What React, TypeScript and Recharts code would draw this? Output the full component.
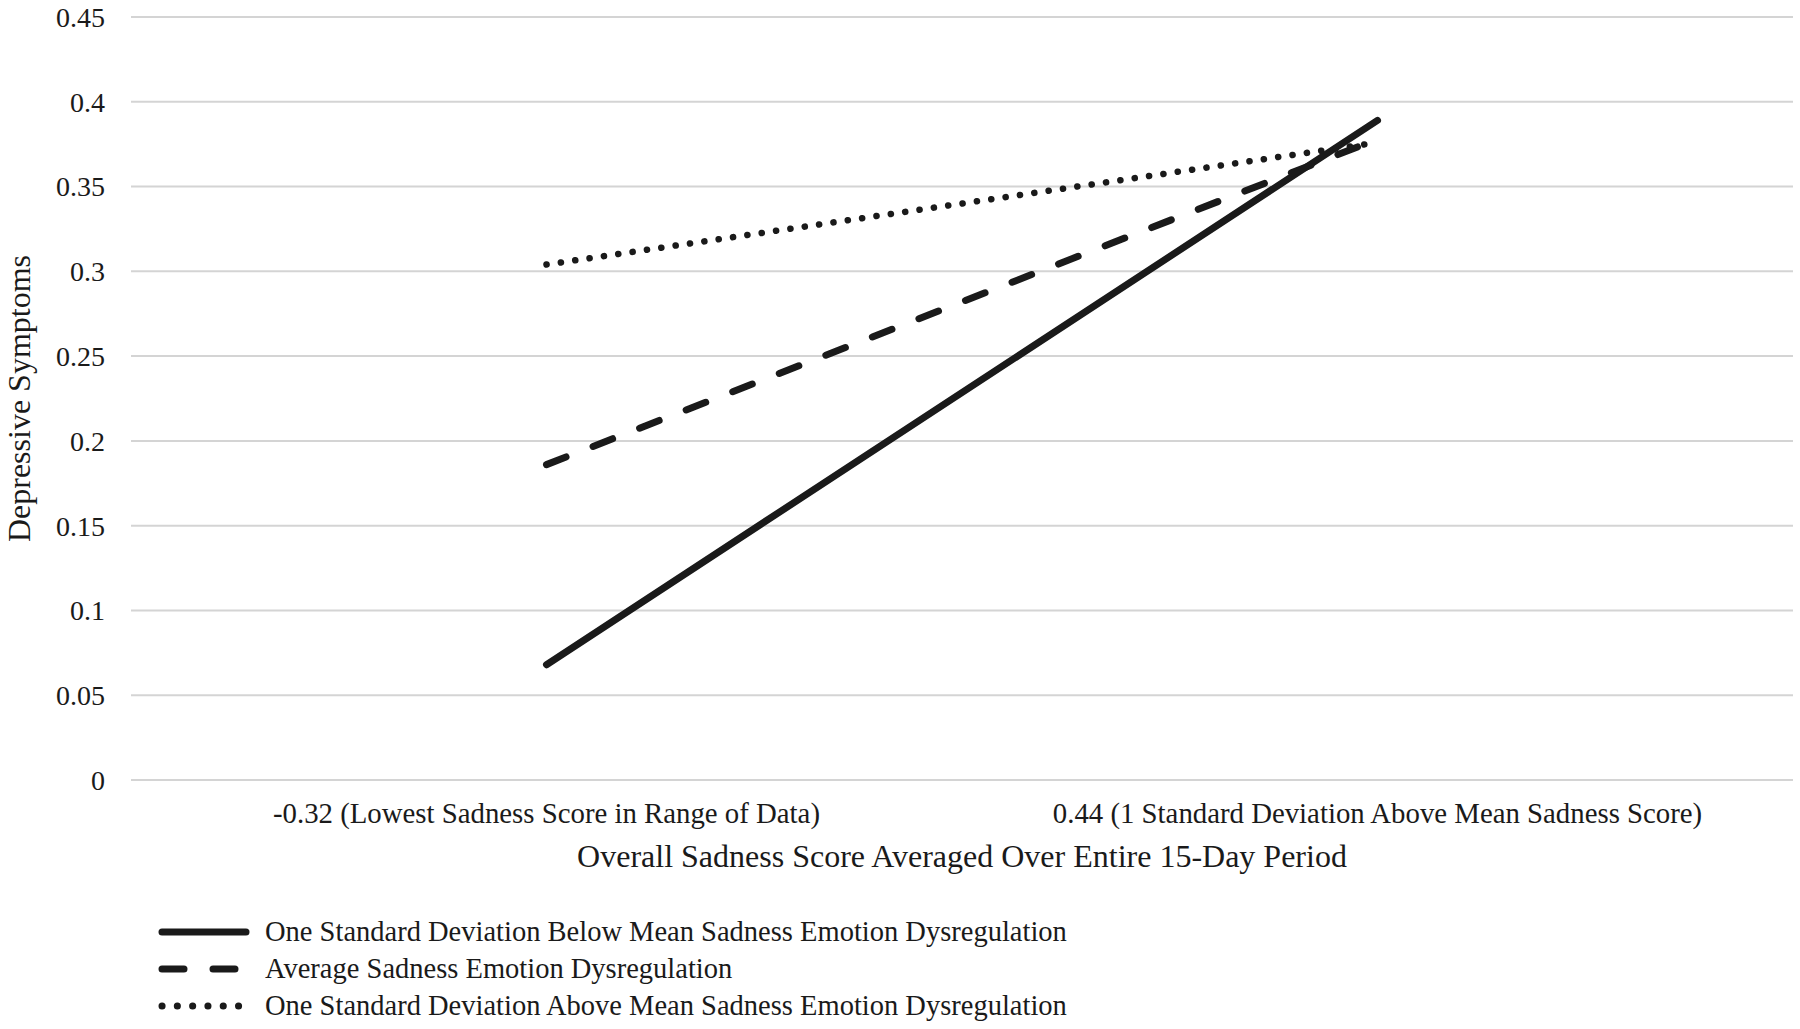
import { LineChart, Line, XAxis, YAxis, CartesianGrid, Legend } from 'recharts';

const categories = [
  '-0.32 (Lowest Sadness Score in Range of Data)',
  '0.44 (1 Standard Deviation Above Mean Sadness Score)',
];
const belowMean = [0.068, 0.389];
const average = [0.186, 0.378];
const aboveMean = [0.304, 0.376];
const yTicks = [0, 0.05, 0.1, 0.15, 0.2, 0.25, 0.3, 0.35, 0.4, 0.45];

const seriesInfo = [
  { key: 'below', name: 'One Standard Deviation Below Mean Sadness Emotion Dysregulation', dash: undefined as string | undefined },
  { key: 'avg', name: 'Average Sadness Emotion Dysregulation', dash: '21 29' },
  { key: 'above', name: 'One Standard Deviation Above Mean Sadness Emotion Dysregulation', dash: '0.1 14.4' },
];

const data = categories.map((c, i) => ({
  cat: c,
  below: belowMean[i],
  avg: average[i],
  above: aboveMean[i],
}));

const FONT = '"Liberation Serif", "Times New Roman", serif';
const INK = '#1a1a1a';

const legendDash: Record<string, string | undefined> = {
  below: undefined,
  avg: '22 29',
  above: '0.1 15.2',
};

function LegendBox() {
  return (
    <div style={{ height: 154, display: 'flex', flexDirection: 'column', justifyContent: 'flex-end', paddingLeft: 158 }}>
      {seriesInfo.map((s) => (
        <div key={s.key} style={{ display: 'flex', alignItems: 'center', height: 37 }}>
          <svg width={100} height={14} style={{ marginRight: 7 }}>
            <line
              x1={4}
              y1={7}
              x2={s.key === 'avg' ? 82 : 88}
              y2={7}
              stroke={INK}
              strokeWidth={7}
              strokeLinecap="round"
              strokeDasharray={legendDash[s.key]}
            />
          </svg>
          <span style={{ fontFamily: FONT, fontSize: 28.5, color: INK, lineHeight: '37px', whiteSpace: 'nowrap' }}>{s.name}</span>
        </div>
      ))}
    </div>
  );
}

export default function App() {
  return (
    <div style={{ position: 'absolute', left: 0, top: 0, width: 1800, height: 1029, background: '#fff' }}>
      <LineChart width={1800} height={1029} data={data} margin={{ top: 17, right: 7, left: 0, bottom: 5 }}>
        <CartesianGrid vertical={false} stroke="#d4d4d4" strokeWidth={2} />
        <XAxis
          dataKey="cat"
          scale="band"
          axisLine={false}
          tickLine={false}
          tickMargin={17}
          height={90}
          interval={0}
          tick={{ fontFamily: FONT, fontSize: 28.8, fill: INK }}
          label={{
            value: 'Overall Sadness Score Averaged Over Entire 15-Day Period',
            position: 'insideBottom',
            offset: 3,
            style: { fontFamily: FONT, fontSize: 32, fill: INK },
          }}
        />
        <YAxis
          domain={[0, 0.45]}
          ticks={yTicks}
          width={131}
          axisLine={false}
          tickLine={false}
          tickMargin={20}
          tick={{ fontFamily: FONT, fontSize: 28, fill: INK }}
          label={{
            content: (props: any) => {
              const vb = props.viewBox || {};
              const cx = 19;
              const cy = (vb.y ?? 0) + (vb.height ?? 0) / 2;
              return (
                <text
                  x={cx}
                  y={cy}
                  transform={`rotate(-90 ${cx} ${cy})`}
                  textAnchor="middle"
                  dominantBaseline="central"
                  style={{ fontFamily: FONT, fontSize: 32, fill: INK }}
                >
                  Depressive Symptoms
                </text>
              );
            },
          }}
        />
        <Legend verticalAlign="bottom" align="left" content={() => <LegendBox />} />
        {seriesInfo.map((s) => (
          <Line
            key={s.key}
            type="linear"
            dataKey={s.key}
            name={s.name}
            stroke={INK}
            strokeWidth={s.key === 'above' ? 6.5 : 7}
            strokeLinecap="round"
            strokeDasharray={s.dash}
            dot={false}
            activeDot={false}
            isAnimationActive={false}
          />
        ))}
      </LineChart>
    </div>
  );
}
